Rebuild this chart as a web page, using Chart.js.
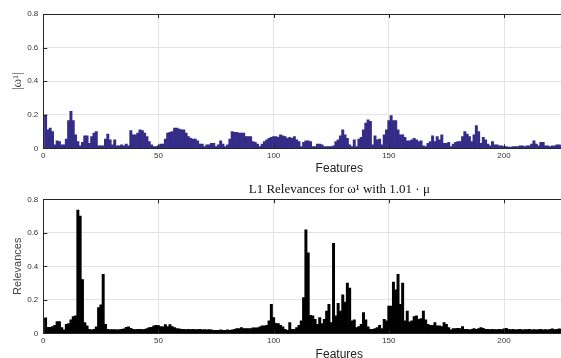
<!DOCTYPE html>
<html>
<head>
<meta charset="utf-8">
<script src="https://cdn.jsdelivr.net/npm/chart.js@4.4.0/dist/chart.umd.min.js"></script>
<style>
html, body { margin: 0; padding: 0; background: #fff; overflow: hidden; width: 561px; height: 358px; }
#top { position: absolute; left: 0; top: 0; }
#bottom { position: absolute; left: 0; top: 176px; }
</style>
</head>
<body>
<canvas id="top" width="680" height="176"></canvas>
<canvas id="bottom" width="680" height="192"></canvas>
<script>
// feature indices visible in the picture (axis runs 0..257, cropped at the right)
var features = Array.from({ length: 225 }, function (_, i) { return i + 1; });
var xTicks = [0, 50, 100, 150, 200];
var yTicks = [0, 0.2, 0.4, 0.6, 0.8];

// |w^1| per feature
var omega = [
  0.20, 0.11, 0.12, 0.10, 0.02, 0.045, 0.04, 0.02, 0.02, 0.055,
  0.165, 0.22, 0.165, 0.08, 0.04, 0.015, 0.035, 0.075, 0.075, 0.03,
  0.07, 0.09, 0.10, 0.015, 0.015, 0.015, 0.055, 0.085, 0.05, 0.02,
  0.05, 0.015, 0.015, 0.02, 0.015, 0.025, 0.015, 0.105, 0.08, 0.08,
  0.09, 0.11, 0.105, 0.09, 0.07, 0.04, 0.02, 0.01, 0.01, 0.015,
  0.025, 0.025, 0.055, 0.09, 0.095, 0.10, 0.12, 0.12, 0.115, 0.11,
  0.11, 0.09, 0.07, 0.06, 0.055, 0.055, 0.045, 0.025, 0.025, 0.01,
  0.02, 0.02, 0.03, 0.03, 0.01, 0.02, 0.045, 0.025, 0.01, 0.02,
  0.055, 0.10, 0.095, 0.095, 0.09, 0.09, 0.09, 0.07, 0.07, 0.07,
  0.04, 0.035, 0.025, 0.01, 0.025, 0.04, 0.05, 0.06, 0.065, 0.07,
  0.07, 0.065, 0.08, 0.075, 0.07, 0.06, 0.065, 0.06, 0.07, 0.05,
  0.04, 0.01, 0.035, 0.045, 0.045, 0.04, 0.01, 0.01, 0.025, 0.025,
  0.02, 0.01, 0.01, 0.01, 0.01, 0.015, 0.04, 0.05, 0.075, 0.11,
  0.08, 0.06, 0.02, 0.01, 0.05, 0.01, 0.055, 0.065, 0.11, 0.15,
  0.17, 0.16, 0.02, 0.075, 0.05, 0.055, 0.02, 0.08, 0.11, 0.165,
  0.195, 0.165, 0.165, 0.11, 0.08, 0.08, 0.065, 0.045, 0.045, 0.05,
  0.06, 0.05, 0.04, 0.045, 0.015, 0.01, 0.03, 0.04, 0.075, 0.04,
  0.07, 0.05, 0.08, 0.03, 0.03, 0.035, 0.01, 0.025, 0.035, 0.04,
  0.04, 0.07, 0.10, 0.085, 0.07, 0.04, 0.08, 0.135, 0.10, 0.03,
  0.065, 0.05, 0.025, 0.015, 0.04, 0.02, 0.02, 0.015, 0.015, 0.01,
  0.01, 0.008, 0.008, 0.01, 0.01, 0.01, 0.015, 0.015, 0.01, 0.015,
  0.015, 0.025, 0.045, 0.025, 0.015, 0.035, 0.035, 0.015, 0.015, 0.01,
  0.015, 0.015, 0.02, 0.02, 0.015
];

// L1 relevances per feature
var relevance = [
  0.093, 0.036, 0.036, 0.04, 0.048, 0.07, 0.07, 0.034, 0.02, 0.054,
  0.058, 0.08, 0.10, 0.104, 0.736, 0.70, 0.32, 0.064, 0.044, 0.024,
  0.02, 0.024, 0.038, 0.153, 0.17, 0.352, 0.054, 0.024, 0.022, 0.022,
  0.022, 0.02, 0.022, 0.024, 0.026, 0.036, 0.038, 0.03, 0.024, 0.022,
  0.024, 0.024, 0.022, 0.024, 0.028, 0.034, 0.036, 0.044, 0.048, 0.046,
  0.04, 0.038, 0.052, 0.04, 0.052, 0.04, 0.034, 0.028, 0.026, 0.024,
  0.024, 0.022, 0.024, 0.022, 0.024, 0.022, 0.022, 0.024, 0.02, 0.022,
  0.02, 0.022, 0.02, 0.018, 0.018, 0.018, 0.02, 0.018, 0.018, 0.02,
  0.018, 0.02, 0.024, 0.028, 0.028, 0.034, 0.028, 0.028, 0.028, 0.028,
  0.032, 0.032, 0.032, 0.038, 0.044, 0.044, 0.048, 0.074, 0.173, 0.094,
  0.06, 0.058, 0.048, 0.038, 0.024, 0.018, 0.064, 0.024, 0.024, 0.034,
  0.048, 0.074, 0.213, 0.617, 0.48, 0.107, 0.104, 0.084, 0.054, 0.094,
  0.058, 0.084, 0.133, 0.173, 0.064, 0.537, 0.104, 0.179, 0.133, 0.229,
  0.187, 0.30, 0.27, 0.074, 0.08, 0.034, 0.04, 0.054, 0.123, 0.08,
  0.038, 0.024, 0.024, 0.028, 0.034, 0.048, 0.028, 0.084, 0.074, 0.163,
  0.163, 0.306, 0.259, 0.352, 0.173, 0.30, 0.074, 0.133, 0.068, 0.074,
  0.10, 0.104, 0.084, 0.088, 0.133, 0.08, 0.054, 0.048, 0.048, 0.064,
  0.044, 0.044, 0.04, 0.064, 0.054, 0.034, 0.02, 0.028, 0.028, 0.03,
  0.028, 0.04, 0.024, 0.024, 0.02, 0.024, 0.028, 0.024, 0.028, 0.034,
  0.03, 0.024, 0.024, 0.022, 0.024, 0.022, 0.022, 0.024, 0.022, 0.026,
  0.03, 0.024, 0.022, 0.024, 0.02, 0.022, 0.024, 0.02, 0.022, 0.022,
  0.024, 0.02, 0.022, 0.02, 0.022, 0.024, 0.02, 0.022, 0.02, 0.024,
  0.026, 0.022, 0.024, 0.026, 0.024
];

var TEXT = "#333333";
var GRID = "#e3e3e3";
var SANS = "'Liberation Sans', Arial, sans-serif";
var SERIF = "'Liberation Serif', 'DejaVu Serif', serif";

// matlab-like box with inward ticks, plus an axes-centred title
var framePlugin = {
  id: "frame",
  afterDraw: function (chart, args, opts) {
    var ctx = chart.ctx, a = chart.chartArea;
    var xs = chart.scales.x, ys = chart.scales.y;
    ctx.save();
    ctx.strokeStyle = "#262626";
    ctx.lineWidth = 1;
    ctx.beginPath();
    xs.ticks.forEach(function (t) {
      var px = Math.round(xs.getPixelForValue(t.value)) + 0.5;
      ctx.moveTo(px, a.top); ctx.lineTo(px, a.top + 4);
      ctx.moveTo(px, a.bottom); ctx.lineTo(px, a.bottom - 4);
    });
    ys.ticks.forEach(function (t) {
      var py = Math.round(ys.getPixelForValue(t.value)) + 0.5;
      ctx.moveTo(a.left, py); ctx.lineTo(a.left + 4, py);
      ctx.moveTo(a.right, py); ctx.lineTo(a.right - 4, py);
    });
    ctx.stroke();
    ctx.strokeRect(Math.round(a.left) + 0.5, Math.round(a.top) + 0.5,
      Math.round(a.right - a.left), Math.round(a.bottom - a.top));
    if (opts.text) {
      ctx.fillStyle = "#111";
      ctx.font = "13px " + SERIF;
      ctx.textAlign = "center";
      ctx.textBaseline = "middle";
      ctx.fillText(opts.text, (a.left + a.right) / 2, a.top - 9.5);
    }
    ctx.restore();
  }
};

function buildChart(canvasId, values, color, opt) {
  return new Chart(document.getElementById(canvasId), {
    type: "bar",
    data: {
      datasets: [{
        data: features.map(function (f, i) { return { x: f, y: values[i] }; }),
        backgroundColor: color,
        borderWidth: 0,
        categoryPercentage: 1.0,
        barPercentage: 1.0
      }]
    },
    options: {
      responsive: false,
      animation: false,
      devicePixelRatio: 1,
      layout: { padding: { top: opt.padTop, right: 44.7, left: 0, bottom: 0 } },
      plugins: {
        legend: { display: false },
        tooltip: { enabled: false },
        title: { display: false },
        frame: { text: opt.title || "" }
      },
      scales: {
        x: {
          type: "linear",
          min: 0,
          max: 257,
          offset: false,
          afterFit: function (s) { s.height = opt.xHeight; },
          afterBuildTicks: function (s) { s.ticks = xTicks.map(function (v) { return { value: v }; }); },
          grid: { color: GRID, drawTicks: false, offset: false },
          border: { display: false },
          ticks: { color: TEXT, font: { family: SANS, size: 8 }, padding: 3, maxRotation: 0 },
          title: {
            display: true,
            text: "Features",
            color: "#222",
            font: { family: SANS, size: 12 },
            padding: { top: 0, bottom: opt.xTitlePad }
          }
        },
        y: {
          min: 0,
          max: 0.8,
          afterFit: function (s) { s.width = 43.3; },
          afterBuildTicks: function (s) { s.ticks = yTicks.map(function (v) { return { value: v }; }); },
          grid: { color: GRID, drawTicks: false },
          border: { display: false },
          ticks: { color: TEXT, font: { family: SANS, size: 8 }, padding: 5 },
          title: {
            display: true,
            text: opt.yTitle,
            color: "#444",
            font: opt.yFont,
            padding: { top: opt.yTitlePad, bottom: 0 }
          }
        }
      }
    },
    plugins: [framePlugin]
  });
}

buildChart("top", omega, "#352c88", {
  padTop: 14,
  xHeight: 27.7,
  xTitlePad: 0.5,
  yTitle: "|\u03c9\u00b9|",
  yFont: { family: SERIF, size: 13 },
  yTitlePad: 10
});

buildChart("bottom", relevance, "#000000", {
  padTop: 23.3,
  title: "L1 Relevances for \u03c9\u00b9 with 1.01 \u00b7 \u03bc",
  xHeight: 34.7,
  xTitlePad: 6.3,
  yTitle: "Relevances",
  yFont: { family: SANS, size: 11 },
  yTitlePad: 11.7
});
</script>
</body>
</html>
